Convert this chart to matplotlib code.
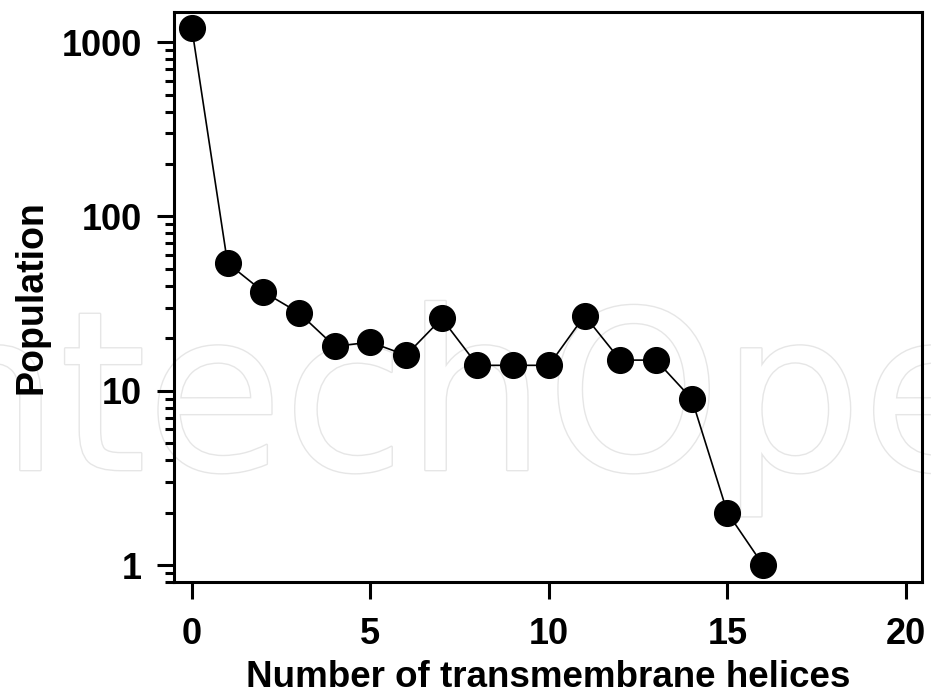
import matplotlib
matplotlib.use('Agg')
import matplotlib.pyplot as plt
import matplotlib.patheffects as pe
from matplotlib.ticker import LogLocator, FixedLocator, NullFormatter

# number of helices vs population
helices = [0, 1, 2, 3, 4, 5, 6, 7, 8, 9, 10, 11, 12, 13, 14, 15, 16]
population = [1200, 54, 37, 28, 18, 19, 16, 26, 14, 14, 14, 27, 15, 15, 9, 2, 1]

ytick_vals = [1, 10, 100, 1000]
ytick_labels = ['1', '10', '100', '1000']
xtick_vals = [0, 5, 10, 15, 20]

plt.rcParams['font.family'] = ['Liberation Sans', 'DejaVu Sans']
plt.rcParams['font.weight'] = 'bold'

fig = plt.figure(figsize=(9.31, 6.97), dpi=100)

# faint watermark behind the plot
fig.text(-0.158, 1 - 470/697, 'IntechOpen', fontsize=160, color='white', family='DejaVu Sans',
         fontweight='normal', ha='left', va='baseline', zorder=-1,
         path_effects=[pe.withStroke(linewidth=2, foreground='#e6e6e6')])

ax = fig.add_axes([174/931, 1 - 582/697, (922-174)/931, (582-12)/697])
ax.patch.set_alpha(0)

ax.plot(helices, population, color='black', lw=1.2, marker='o', markersize=18.5,
        markerfacecolor='black', markeredgecolor='black', zorder=3, clip_on=False)

ax.set_yscale('log')
ax.set_xlim(-0.5, 20.45)
ax.set_ylim(0.8, 1490)

ax.yaxis.set_major_locator(FixedLocator(ytick_vals))
ax.set_yticklabels(ytick_labels)
ax.yaxis.set_minor_locator(LogLocator(base=10, subs=range(2, 10)))
ax.yaxis.set_minor_formatter(NullFormatter())
ax.set_xticks(xtick_vals)
ax.set_xticklabels([str(v) for v in xtick_vals])

for s in ax.spines.values():
    s.set_linewidth(2.2)
ax.tick_params(axis='both', which='major', direction='out', length=12, width=2.2,
               labelsize=26)
ax.tick_params(axis='x', which='major', pad=13)
ax.tick_params(axis='y', which='major', pad=11)
ax.tick_params(axis='y', which='minor', direction='out', length=6.5, width=2.2)
ax.tick_params(top=False, right=False)
for lbl in ax.get_xticklabels() + ax.get_yticklabels():
    lbl.set_fontweight('bold')

ax.set_xlabel('Number of transmembrane helices', fontsize=26.5, fontweight='bold', labelpad=6)
ax.set_ylabel('Population', fontsize=27, fontweight='bold', labelpad=9)

fig.savefig('out.png', dpi=100)
